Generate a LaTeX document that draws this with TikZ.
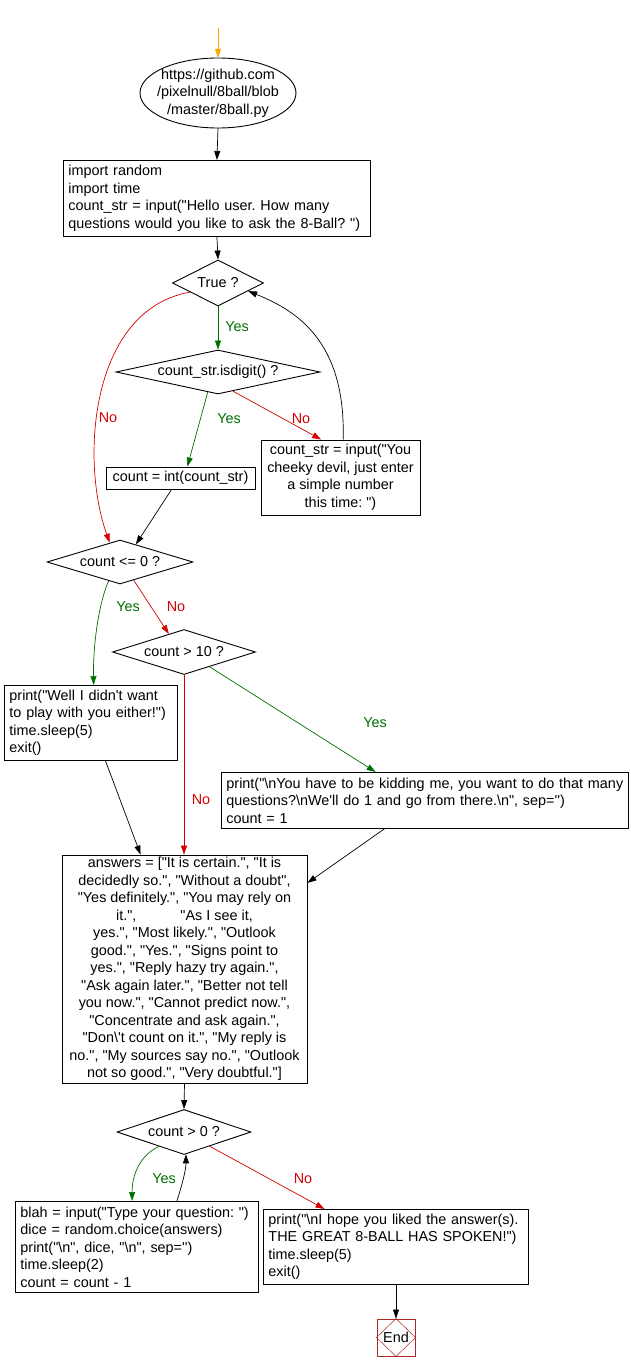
\documentclass[tikz,border=0pt]{standalone}
\usepackage{fontspec}
\setmainfont{Liberation Sans}[Ligatures=TeXOff]
\usepackage{tikz}
\usetikzlibrary{arrows.meta,shapes.geometric,calc}

\definecolor{yesgreen}{RGB}{0,110,0}
\definecolor{nored}{RGB}{214,0,0}
\definecolor{startorange}{RGB}{255,165,0}
\definecolor{endred}{RGB}{170,40,40}

\newcommand{\bsl}{\textbackslash}
\newcommand{\sq}{\textquotesingle}
\frenchspacing

\tikzset{
  codebox/.style={draw, rectangle, anchor=north west, align=left, inner xsep=5pt, inner ysep=0pt, line width=0.9pt},
  midbox/.style={draw, rectangle, align=center, inner sep=0pt, line width=0.9pt},
  cond/.style={draw, diamond, inner sep=0pt, line width=0.9pt},
  flow/.style={->, line width=0.7pt},
  yesflow/.style={->, line width=0.7pt, draw=yesgreen},
  noflow/.style={->, line width=0.7pt, draw=nored},
  lblyes/.style={text=yesgreen},
  lblno/.style={text=nored}
}

\begin{document}
\begin{tikzpicture}[x=1pt, y=-1pt, >={Triangle[length=9pt,width=6pt]},
    every node/.style={font=\fontsize{14.4}{17.5}\selectfont\frenchspacing}]
    \useasboundingbox (0,0) rectangle (630,1372);

    % 起点与源码地址
    \coordinate (start) at (218,28);
    \node[minimum width=156pt, minimum height=70pt, inner sep=0pt, align=center] (url) at (218,93)
        {https://github.com\\/pixelnull/8ball/blob\\/master/8ball.py};
    \draw[line width=0.9pt] (url.center) ellipse (78 and 35);
    \draw[->, line width=0.7pt, startorange] (start) -- (url.north);

    % 读入问题个数
    \node[codebox, text width=297pt, minimum height=76pt] (imp) at (63,160)
        {import random\\import time\\count\_str = input("Hello user. How many\\questions would you like to ask the 8-Ball? ")};
    \draw[flow] (url.south) -- (imp.north);

    % 循环判断
    \node[cond, minimum width=91pt, minimum height=46pt, aspect=2] (loop) at (218,283) {True ?};
    \draw[flow] (imp.south) -- (loop.north);

    \node[cond, minimum width=204pt, minimum height=44pt, aspect=4.6] (isdig) at (218,372) {count\_str.isdigit() ?};
    \draw[yesflow] (loop.south) -- (isdig.north);
    \node[lblyes] (yes1) at (237,327) {Yes};

    \node[midbox, minimum width=149pt, minimum height=22pt] (toint) at (180.5,478) {count = int(count\_str)};
    \node[midbox, minimum width=159pt, minimum height=75pt] (again) at (340.5,477.5)
        {count\_str = input("You\\cheeky devil, just enter\\a simple number\\this time: ")};
    \draw[yesflow] (isdig.-117) -- (toint.59);
    \node[lblyes] (yes2) at (229,419) {Yes};
    \draw[noflow] (isdig.-52) -- (again.117);
    \node[lblno] (no2) at (301,419) {No};
    \draw[flow] (again.86) .. controls (346,340) and (295,310) .. (loop.-15);

    % 数量判断
    \node[cond, minimum width=146pt, minimum height=44pt, aspect=3.3] (le) at (120,562) {count <= 0 ?};
    \draw[noflow] (loop.-162) .. controls (90,310) and (80,460) .. (le.118);
    \node[lblno] (no1) at (108,418) {No};
    \draw[flow] (toint.-128) -- (le.48);

    \node[cond, minimum width=143pt, minimum height=45pt, aspect=3.2] (gtten) at (184,652) {count > 10 ?};
    \node[codebox, text width=163pt, minimum height=75pt] (quit) at (4,685)
        {print("Well I didn't want\\to play with you either!")\\time.sleep(5)\\exit()};
    \draw[yesflow] (le.-121) .. controls (100,600) and (93,640) .. (quit.86);
    \node[lblyes] (yes3) at (128,607) {Yes};
    \draw[noflow] (le.-53) -- (gtten.130);
    \node[lblno] (no3) at (176,607) {No};

    \node[codebox, text width=397pt, minimum height=56pt] (many) at (221,772)
        {print("\bsl nYou have to be kidding me, you want to do that many\\questions?\bsl nWe'll do 1 and go from there.\bsl n", sep='')\\count = 1};
    \draw[yesflow] (gtten.-30) -- (many.150);
    \node[lblyes] (yes4) at (375,723) {Yes};

    % 答案列表
    \node[midbox, minimum width=245pt, minimum height=228pt] (ans) at (184.5,969)
        {answers = ["It is certain.", "It is\\
         decidedly so.", "Without a doubt",\\
         "Yes definitely.", "You may rely on\\
         it.",\hspace*{44pt}"As I see it,\hspace*{20pt}\\
         yes.", "Most likely.", "Outlook\\
         good.", "Yes.", "Signs point to\\
         yes.", "Reply hazy try again.",\hspace*{15pt}\\
         "Ask again later.", "Better not tell\\
         you now.", "Cannot predict now.",\\
         "Concentrate and ask again.",\hspace*{46pt}\\
         "Don\bsl't count on it.", "My reply is\\
         no.", "My sources say no.", "Outlook\\
         not so good.", "Very doubtful."]};
    \draw[noflow] (gtten.south) -- (ans.north -| gtten.south);
    \node[lblno] (no4) at (201,800) {No};
    \draw[flow] (quit.-69) -- (ans.111);
    \draw[flow] (many.-145) -- (ans.35);

    % 提问循环
    \node[cond, minimum width=134pt, minimum height=45pt, aspect=3] (gtzero) at (184,1132) {count > 0 ?};
    \draw[flow] (ans.south) -- (gtzero.north);
    \node[codebox, text width=233pt, minimum height=91pt] (ask) at (15,1201)
        {blah = input("Type your question: ")\\dice = random.choice(answers)\\print("\bsl n", dice, "\bsl n", sep='')\\time.sleep(2)\\count = count - 1};
    \node[codebox, text width=255pt, minimum height=75pt] (bye) at (263,1209)
        {print("\bsl nI hope you liked the answer(s).\\THE GREAT 8-BALL HAS SPOKEN!")\\time.sleep(5)\\exit()};
    \draw[yesflow] (gtzero.-150) .. controls (140,1155) and (132,1175) .. (ask.96);
    \node[lblyes] (yes5) at (164,1179) {Yes};
    \draw[flow] (ask.49) .. controls (182,1185) and (186,1170) .. (gtzero.-85);
    \draw[noflow] (gtzero.-29) -- (bye.152);
    \node[lblno] (no5) at (303,1179) {No};

    % 结束
    \node[draw=endred, line width=0.9pt, minimum width=38pt, minimum height=37pt, inner sep=0pt] (fin) at (396,1337.5) {End};
    \draw[endred, line width=0.5pt] (fin.north) -- (fin.east) -- (fin.south) -- (fin.west) -- cycle;
    \draw[flow] (bye.south -| fin.north) -- (fin.north);
\end{tikzpicture}
\end{document}
